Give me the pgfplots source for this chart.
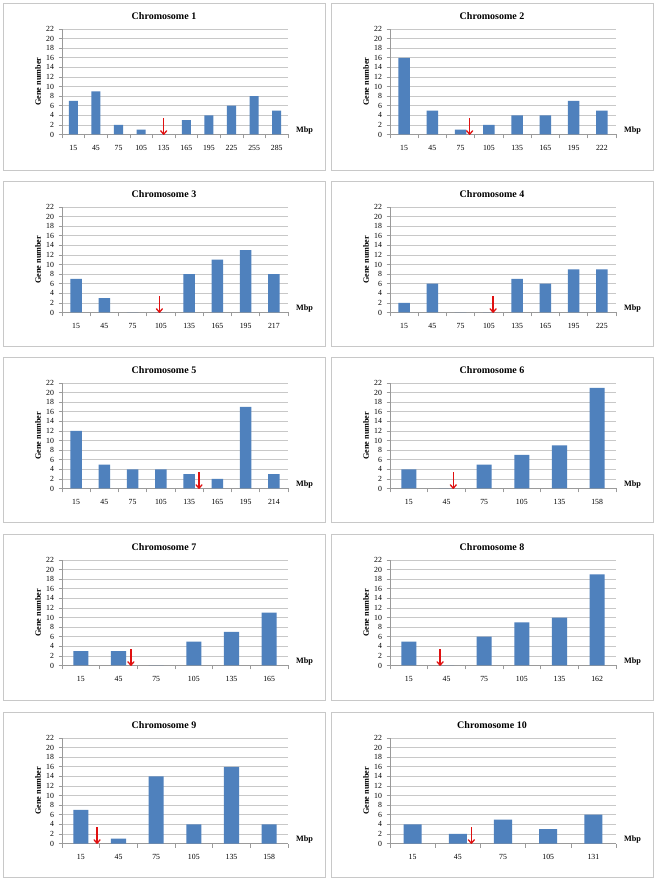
\documentclass[border=0pt]{standalone}
\usepackage{fontspec}
\setmainfont{Liberation Serif}
\usepackage{pgfplots}
\pgfplotsset{compat=1.18}
\usetikzlibrary{arrows.meta}
\definecolor{barc}{HTML}{4F81BD}
\definecolor{gridc}{HTML}{C8C8C8}
\definecolor{axisc}{HTML}{9A9A9A}
\definecolor{borderc}{HTML}{C8C8C8}
\definecolor{arrc}{HTML}{E01010}
\pgfplotsset{chrom/.style={
  scale only axis, width=226pt, height=105.5pt,
  ymin=0, ymax=22, ytick={0,2,...,22}, xmin=-0.5,
  ybar, bar width=0.4,
  axis x line*=bottom, axis y line*=left,
  axis line style={-, draw=axisc, line width=0.6pt},
  ymajorgrids, grid style={draw=gridc, line width=0.6pt},
  tick align=outside, major tick length=3.5pt, minor tick length=4pt,
  tick style={draw=axisc, line width=0.6pt},
  major x tick style={draw=none},
  tick label style={font=\fontsize{7.8}{9}\selectfont, /pgf/number format/assume math mode=true},
  xticklabel style={yshift=-4pt},
  yticklabel style={xshift=-1pt},
  enlargelimits=false, clip=false,
}}
% #1 axis left, #2 axis bottom (tikz y), #3 xmax, #4 tick positions, #5 labels, #6 coords, #7 arrow x
\newcommand{\panel}[7]{%
\begin{axis}[chrom, at={(#1pt,#2pt)}, anchor=south west, xmax=#3,
  xtick={#4}, xticklabels={#5}, minor xtick={-0.5,0.5,...,#3}]
\addplot[fill=barc, draw=none] coordinates {#6};
\fill[arrc] ([xshift=-0.7pt]axis cs:#7,3.5) rectangle ([xshift=0.7pt]axis cs:#7,0.4);
\draw[draw=arrc, line width=1.3pt, line cap=round, line join=round] ([xshift=-3pt,yshift=3.5pt]axis cs:#7,0.05) -- (axis cs:#7,0.05) -- ([xshift=3pt,yshift=3.5pt]axis cs:#7,0.05);
\node[anchor=base west, font=\bfseries\fontsize{8.2}{9}\selectfont] at ([xshift=4.5pt,yshift=2pt]rel axis cs:1,0) {Mbp};
\node[rotate=90, font=\bfseries\fontsize{8.2}{9}\selectfont] at ([xshift=-24pt]rel axis cs:0,0.5) {Gene number};
\end{axis}}
\newcommand{\panelframe}[4]{% #1 left, #2 bottom, #3 top, #4 title
\draw[borderc, line width=0.8pt] (#1,#2) rectangle ({#1+322},#3);
\node[font=\bfseries\fontsize{10}{12}\selectfont] at ({#1+161},{#3-13}) {#4};}
\begin{document}
\begin{tikzpicture}[x=1pt,y=1pt]
\fill[white] (0,0) rectangle (657,878);
\useasboundingbox (0,0) rectangle (657,878);
\panelframe{3}{708}{875}{Chromosome 1}
\panelframe{331}{708}{875}{Chromosome 2}
\panelframe{3}{532}{697}{Chromosome 3}
\panelframe{331}{532}{697}{Chromosome 4}
\panelframe{3}{356}{521}{Chromosome 5}
\panelframe{331}{356}{521}{Chromosome 6}
\panelframe{3}{178}{344}{Chromosome 7}
\panelframe{331}{178}{344}{Chromosome 8}
\panelframe{3}{1}{166}{Chromosome 9}
\panelframe{331}{1}{166}{Chromosome 10}
\panel{62}{743.5}{9.5}{0,...,9}{15,45,75,105,135,165,195,225,255,285}{(0,7)(1,9)(2,2)(3,1)(4,0)(5,3)(6,4)(7,6)(8,8)(9,5)}{4}
\panel{390}{743.5}{7.5}{0,...,7}{15,45,75,105,135,165,195,222}{(0,16)(1,5)(2,1)(3,2)(4,4)(5,4)(6,7)(7,5)}{2.32}
\panel{62}{565.5}{7.5}{0,...,7}{15,45,75,105,135,165,195,217}{(0,7)(1,3)(2,0)(3,0)(4,8)(5,11)(6,13)(7,8)}{2.95}
\panel{390}{565.5}{7.5}{0,...,7}{15,45,75,105,135,165,195,225}{(0,2)(1,6)(2,0)(3,0)(4,7)(5,6)(6,9)(7,9)}{3.15}
\panel{62}{389.5}{7.5}{0,...,7}{15,45,75,105,135,165,195,214}{(0,12)(1,5)(2,4)(3,4)(4,3)(5,2)(6,17)(7,3)}{4.35}
\panel{390}{389.5}{5.5}{0,...,5}{15,45,75,105,135,158}{(0,4)(1,0)(2,5)(3,7)(4,9)(5,21)}{1.18}
\panel{62}{212.5}{5.5}{0,...,5}{15,45,75,105,135,165}{(0,3)(1,3)(2,0)(3,5)(4,7)(5,11)}{1.33}
\panel{390}{212.5}{5.5}{0,...,5}{15,45,75,105,135,162}{(0,5)(1,0)(2,6)(3,9)(4,10)(5,19)}{0.83}
\panel{62}{34.5}{5.5}{0,...,5}{15,45,75,105,135,158}{(0,7)(1,1)(2,14)(3,4)(4,16)(5,4)}{0.43}
\panel{390}{34.5}{4.5}{0,...,4}{15,45,75,105,131}{(0,4)(1,2)(2,5)(3,3)(4,6)}{1.3}
\end{tikzpicture}
\end{document}
